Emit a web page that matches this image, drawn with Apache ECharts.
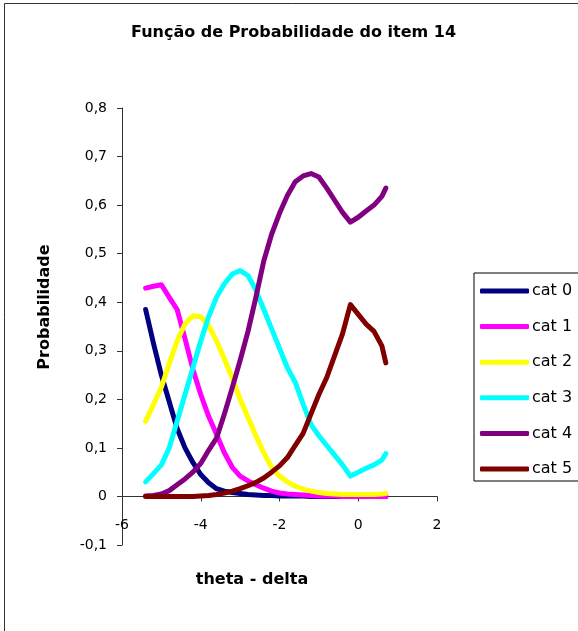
<!DOCTYPE html>
<html>
<head>
<meta charset="utf-8">
<script src="https://cdn.jsdelivr.net/npm/echarts@6/dist/echarts.min.js"></script>
<style>
  html, body { margin: 0; padding: 0; background: #fff; }
  #chart { width: 578px; height: 631px; }
</style>
</head>
<body>
<div id="chart"></div>
<script>
// theta - delta (x values shared by all categories)
const thetaDelta = [-5.4, -5.2, -5.0, -4.8, -4.6, -4.4, -4.2, -4.0, -3.8, -3.6, -3.4, -3.2, -3.0, -2.8, -2.6, -2.4,
  -2.2, -2.0, -1.8, -1.6, -1.4, -1.2, -1.0, -0.8, -0.6, -0.4, -0.2, 0.0, 0.2, 0.4, 0.6, 0.7]

const cat0 = [0.385, 0.315, 0.25, 0.195, 0.14, 0.1, 0.07, 0.045, 0.028, 0.016, 0.011, 0.008, 0.006, 0.004, 0.003, 0.002,
  0.002, 0.001, 0.001, 0.001, 0.001, 0, 0, 0, 0, 0, 0, 0, 0, 0, 0, 0]
const cat1 = [0.429, 0.433, 0.436, 0.41, 0.385, 0.325, 0.262, 0.21, 0.165, 0.128, 0.09, 0.06, 0.042, 0.032, 0.024, 0.017,
  0.011, 0.007, 0.005, 0.004, 0.003, 0.002, 0.001, 0.001, 0.001, 0, 0, 0, 0, 0, 0, 0]
const cat2 = [0.155, 0.19, 0.225, 0.274, 0.32, 0.355, 0.372, 0.37, 0.352, 0.32, 0.283, 0.244, 0.2, 0.163, 0.125, 0.09,
  0.06, 0.042, 0.03, 0.021, 0.015, 0.011, 0.008, 0.006, 0.005, 0.004, 0.004, 0.004, 0.004, 0.004, 0.005, 0.006]
const cat3 = [0.03, 0.047, 0.065, 0.1, 0.155, 0.21, 0.265, 0.32, 0.37, 0.41, 0.438, 0.458, 0.465, 0.455, 0.425, 0.385,
  0.345, 0.305, 0.265, 0.235, 0.19, 0.148, 0.125, 0.105, 0.085, 0.065, 0.042, 0.05, 0.058, 0.065, 0.075, 0.088]
const cat4 = [0.001, 0.002, 0.005, 0.012, 0.024, 0.036, 0.05, 0.068, 0.095, 0.12, 0.17, 0.224, 0.28, 0.34, 0.41, 0.485,
  0.54, 0.583, 0.62, 0.648, 0.66, 0.665, 0.658, 0.635, 0.61, 0.585, 0.565, 0.575, 0.588, 0.6, 0.618, 0.635]
const cat5 = [0, 0, 0, 0, 0, 0, 0, 0.001, 0.002, 0.004, 0.007, 0.011, 0.016, 0.022, 0.029, 0.038,
  0.05, 0.063, 0.08, 0.105, 0.13, 0.17, 0.21, 0.245, 0.29, 0.335, 0.395, 0.375, 0.355, 0.34, 0.31, 0.275]

const catNames = ['cat 0', 'cat 1', 'cat 2', 'cat 3', 'cat 4', 'cat 5']
const catColors = ['#000080', '#FF00FF', '#FFFF00', '#00FFFF', '#800080', '#800000']
const catValues = [cat0, cat1, cat2, cat3, cat4, cat5]

const font = '"DejaVu Sans", Arial, sans-serif'

const chart = echarts.init(document.getElementById('chart'))

const series = catNames.map((name, i) => ({
  name: name,
  type: 'line',
  showSymbol: false,
  symbol: 'none',
  smooth: false,
  data: thetaDelta.map((x, j) => [x, catValues[i][j]]),
  lineStyle: { color: catColors[i], width: 5, cap: 'round', join: 'round' },
  itemStyle: { color: catColors[i] }
}))

chart.setOption({
  animation: false,
  backgroundColor: '#fff',
  title: {
    text: 'Função de Probabilidade do item 14',
    left: 126,
    top: 20,
    textStyle: { fontFamily: font, fontSize: 16, fontWeight: 'bold', color: '#000' }
  },
  grid: { left: 122, right: 141, top: 108, bottom: 86, containLabel: false },
  legend: {
    orient: 'vertical',
    left: 474,
    top: 273,
    padding: [9, 40, 3, 6],
    itemGap: 17.6,
    itemWidth: 49,
    itemHeight: 5,
    icon: 'roundRect',
    borderColor: '#000',
    borderWidth: 1,
    borderRadius: 0,
    data: catNames,
    textStyle: { fontFamily: font, fontSize: 16, color: '#000', lineHeight: 18, padding: [0, 0, 0, -2] }
  },
  xAxis: {
    type: 'value',
    min: -6,
    max: 2,
    interval: 2,
    axisLine: { onZero: true, lineStyle: { color: '#333', width: 1 } },
    axisTick: { show: true, length: 5, lineStyle: { color: '#333' } },
    // labels sit just under the zero line, as in the original
    axisLabel: { margin: -27, fontFamily: font, fontSize: 14, color: '#000' },
    splitLine: { show: false }
  },
  yAxis: {
    type: 'value',
    min: -0.1,
    max: 0.8,
    interval: 0.1,
    axisLine: { show: true, onZero: false, lineStyle: { color: '#333', width: 1 } },
    axisTick: { show: true, length: 5, lineStyle: { color: '#333' } },
    axisLabel: {
      margin: 15,
      fontFamily: font,
      fontSize: 14,
      color: '#000',
      formatter: v => (Math.abs(v) < 1e-9 ? '0' : v.toFixed(1).replace('.', ','))
    },
    splitLine: { show: false }
  },
  graphic: [
    {
      type: 'rect',
      shape: { x: 4.5, y: 3.5, width: 700, height: 700 },
      style: { fill: null, stroke: '#333', lineWidth: 1 },
      silent: true,
      z: -1
    },
    {
      type: 'text',
      x: 45,
      y: 307,
      rotation: Math.PI / 2,
      style: {
        text: 'Probabilidade',
        font: 'bold 16px ' + font,
        fill: '#000',
        align: 'center',
        verticalAlign: 'middle'
      }
    },
    {
      type: 'text',
      x: 252,
      y: 580,
      style: {
        text: 'theta - delta',
        font: 'bold 16px ' + font,
        fill: '#000',
        align: 'center',
        verticalAlign: 'middle'
      }
    }
  ],
  series: series
})
</script>
</body>
</html>
